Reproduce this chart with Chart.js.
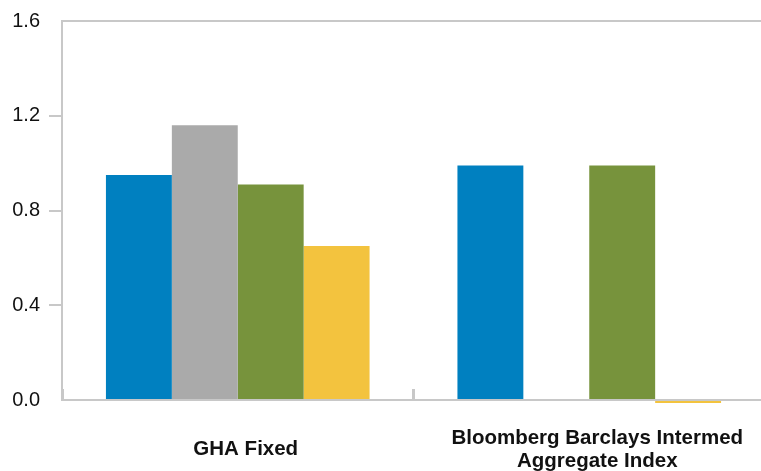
<!DOCTYPE html>
<html>
<head>
<meta charset="utf-8">
<script src="https://cdn.jsdelivr.net/npm/chart.js@4"></script>
<style>
  html, body { margin: 0; padding: 0; overflow: hidden; background: #fff; }
</style>
</head>
<body>
<canvas id="chart" width="765" height="471"></canvas>
<script>
const categories = ["GHA Fixed", ["Bloomberg Barclays Intermed", "Aggregate Index"]];
const seriesNames = ["Series 1", "Series 2", "Series 3", "Series 4"];
const series1 = [0.95, 0.99];
const series2 = [1.16, null];
const series3 = [0.91, 0.99];
const series4 = [0.65, -0.013];
const yTicks = [0, 0.4, 0.8, 1.2, 1.6];

const colors = ["#0080c0", "#aaaaaa", "#77933c", "#f3c33e"];
const lineGray = "#c8c8c8";
const font = "'Liberation Sans', Arial, sans-serif";

const ctx = document.querySelector("#chart").getContext("2d");

const chart = new Chart(ctx, {
  type: "bar",
  data: {
    labels: categories,
    datasets: [series1, series2, series3, series4].map(function (vals, i) {
      return {
        label: seriesNames[i],
        data: vals,
        backgroundColor: colors[i],
        borderWidth: 0,
        categoryPercentage: 0.75,
        barPercentage: 1.0,
        clip: false,
      };
    }),
  },
  options: {
    responsive: false,
    animation: false,
    layout: { padding: { top: 19, left: 0, right: 0, bottom: 0 } },
    plugins: {
      legend: { display: false },
      tooltip: { enabled: false },
    },
    scales: {
      x: {
        afterFit: function (scale) {
          scale.height = 71;
          scale.paddingLeft = 0;
          scale.paddingRight = 0;
        },
        grid: {
          display: true,
          offset: true,
          drawOnChartArea: false,
          tickLength: -11,
          color: lineGray,
          lineWidth: 3,
        },
        border: { display: true, color: lineGray, width: 2 },
        ticks: {
          color: "#111",
          font: { family: font, size: 20.5, weight: "bold", lineHeight: 1.12 },
          padding: 49,
          crossAlign: "center",
          labelOffset: 8,
          maxRotation: 0,
          autoSkip: false,
        },
      },
      y: {
        min: yTicks[0],
        max: yTicks[yTicks.length - 1],
        afterBuildTicks: function (scale) {
          scale.ticks = yTicks.map(function (v) { return { value: v }; });
        },
        afterFit: function (scale) {
          scale.width = 62;
        },
        grid: {
          drawOnChartArea: true,
          tickLength: 13,
          lineWidth: 2,
          color: function (c) {
            return c.tick && c.tick.value === 1.6 ? lineGray : "rgba(0,0,0,0)";
          },
          tickColor: function (c) {
            const v = c.tick ? c.tick.value : 0;
            return v > 0 && v < 1.6 ? lineGray : "rgba(0,0,0,0)";
          },
        },
        border: { display: true, color: lineGray, width: 2 },
        ticks: {
          color: "#111",
          padding: 9,
          font: { family: font, size: 20 },
          callback: function (v) { return Number(v).toFixed(1); },
        },
      },
    },
  },
});
</script>
</body>
</html>
